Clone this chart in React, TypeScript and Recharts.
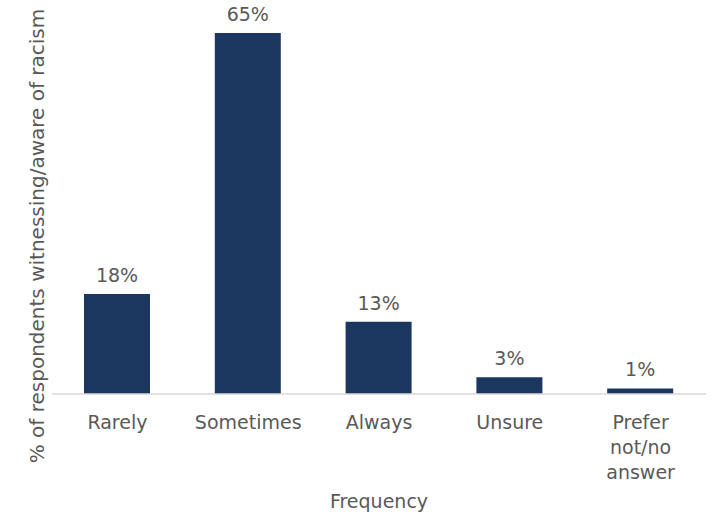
import { BarChart, Bar, XAxis, YAxis, LabelList } from 'recharts'

const categories = ['Rarely', 'Sometimes', 'Always', 'Unsure', 'Prefer not/no answer']
const tickLines = [['Rarely'], ['Sometimes'], ['Always'], ['Unsure'], ['Prefer', 'not/no', 'answer']]
const percentages = [18, 65, 13, 3, 1]

const FONT = '"Century Gothic", "DejaVu Sans", sans-serif'
const TEXT = '#595959'
const NAVY = '#1b365f'

const data = categories.map((name, i) => ({ name, value: percentages[i] }))

function CategoryTick({ x, y, payload, index }: any) {
  const lines = tickLines[index] ?? [payload.value]
  return (
    <text x={x} y={y} textAnchor="middle" fill={TEXT} fontSize={19} fontFamily={FONT}>
      {lines.map((l: string, k: number) => (
        <tspan key={k} x={x} dy={k === 0 ? 27 : 25}>{l}</tspan>
      ))}
    </text>
  )
}

export default function App() {
  return (
    <div style={{ position: 'absolute', left: 0, top: 0, background: '#fff', width: 718, height: 516 }}>
      <BarChart width={718} height={516} data={data} margin={{ top: 33, right: 12, bottom: 0, left: 0 }}>
        <XAxis
          dataKey="name"
          height={122}
          interval={0}
          tickLine={false}
          axisLine={{ stroke: '#d9d9d9', strokeWidth: 1.5 }}
          tick={<CategoryTick />}
          label={({ viewBox }: any) => (
            <text x={viewBox.x + viewBox.width / 2} y={508} textAnchor="middle" fill={TEXT} fontSize={19} fontFamily={FONT}>
              Frequency
            </text>
          )}
        />
        <YAxis
          width={52}
          domain={[0, 65]}
          tick={false}
          axisLine={false}
          tickLine={false}
          label={() => (
            <text x={44} y={236} transform="rotate(-90, 44, 236)" textAnchor="middle" fill={TEXT} fontSize={20} fontFamily={FONT}>
              % of respondents witnessing/aware of racism
            </text>
          )}
        />
        <Bar dataKey="value" fill={NAVY} barSize={66} isAnimationActive={false}>
          <LabelList
            dataKey="value"
            position="top"
            offset={12}
            formatter={(v: any) => `${v}%`}
            fill={TEXT}
            fontSize={19}
            fontFamily={FONT}
          />
        </Bar>
      </BarChart>
    </div>
  )
}
